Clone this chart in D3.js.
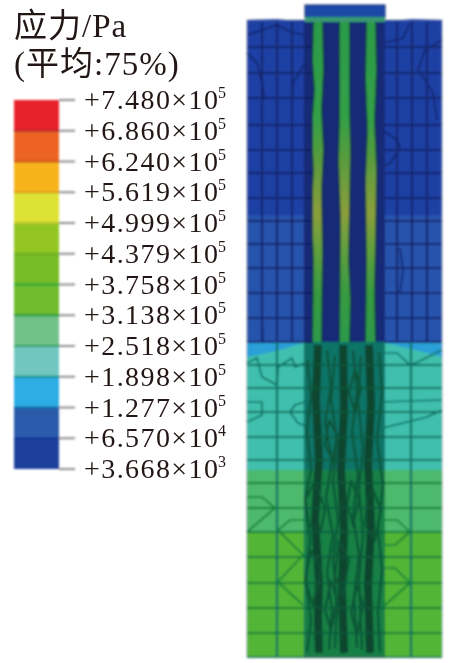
<!DOCTYPE html>
<html><head><meta charset="utf-8">
<script src="https://cdn.jsdelivr.net/npm/d3@7"></script>
<style>html,body{margin:0;padding:0;background:#fff}svg{display:block}</style></head>
<body><svg id="c" width="449" height="663"></svg>
<script>
const titleLines = [["应力","/Pa"],["(平均",":75%)"]];
const tickMantissas = ["7.480","6.860","6.240","5.619","4.999","4.379","3.758","3.138","2.518","1.898","1.277","6.570","3.668"];
const tickExponents = ["5","5","5","5","5","5","5","5","5","5","5","4","3"];
const legendColors = ["#e8202a","#ec6420","#f6b31c","#dde236","#93c623","#77bb28","#70bc2e","#72c08a","#72c6c0","#2fade4","#2a5cab","#1a419b"];
const legendEdges = ["#b8262e","#c9521c","#d99a1a","#b9c22c","#6fae22","#1fa53a","#1b9a3c","#28a565","#0f8f8c","#0a6ea8","#143a94","#15308f"];

// model units: x across the section, y is depth below the ground surface
const soilBands = [[0,195,"#1c3fa4"],[195,322,"#2752ac"],[322,337,"#2a9fd8"],[337,450,"#3fbfae"],[450,512,"#4eb96c"],[512,637,"#52b535"]];
const tealArc = [[0,337],[20,333],[40,328],[58,323],[136,323],[160,328],[180,333],[195,337]];
const surfaceLeft = [[0,0],[30,-1],[58,2]];
const surfaceRight = [[136,2],[165,-1],[195,0]];
const depthLinesUpper = [27,53,78,105,130,153,178,201,224,248,273,298,322];
const depthLinesLower = [345,368,392,417,440,463,488,512,537,563,588,613,637];
const widthLinesUpper = [15,30,45,58,136,150,165,180];
const widthLinesLower = [30,58,136,164];
const pileXs = [[66,76],[92,103],[119,129]];
const pileStops = [[0,"#2b9a48"],[0.3,"#33a046"],[0.42,"#559c3e"],[0.6,"#8a9f3a"],[0.72,"#5f9f3e"],[0.85,"#379a40"],[1,"#2c9a4a"]];
const contours = [
 [[0,15],[16,10],[30,5],[43,12],[58,15]],[[0,33],[10,43],[15,63],[18,80]],[[58,43],[46,63],[45,80]],
 [[136,23],[156,18],[163,3]],[[195,20],[178,30],[171,50],[186,73],[190,100]],[[136,110],[150,120],[153,128],[143,143],[136,147]],
 [[153,228],[156,250],[153,273]],[[15,300],[16,322]],
 [[0,343],[10,338],[15,357],[30,365],[31,347],[45,338],[48,347],[58,343]],
 [[136,333],[150,333],[163,345],[171,342],[195,330]],
 [[0,382],[15,382],[15,395],[0,402]],[[58,382],[48,385],[43,392],[51,403],[61,407]],
 [[133,382],[195,380]],[[136,408],[180,397],[195,390]],
 [[0,477],[15,477],[28,488],[0,512]],[[58,500],[43,500],[31,510],[56,535],[31,562],[56,585]],
 [[136,500],[150,500],[163,512],[148,525],[136,525]],[[136,548],[148,548],[163,563],[136,587]]
];
const pileEdges = [
 [[66,2],[65,40],[67,70],[64,110],[66,150],[64,190],[66,240],[65,322]],
 [[76,2],[77,50],[75,90],[77,130],[75,170],[76,230],[75,322]],
 [[92,2],[92,100],[91,140],[93,200],[92,322]],
 [[103,2],[103,90],[104,130],[102,240],[104,280],[103,322]],
 [[119,2],[118,60],[120,110],[118,160],[119,240],[118,322]],
 [[129,2],[130,50],[128,100],[130,150],[129,220],[128,270],[129,322]]
];
const pileDarkLower = [
 [[71,325],[69,380],[72,440],[68,500],[72,560],[71,600],[72,633]],
 [[96,325],[97,390],[94,450],[97,510],[95,570],[97,633]],
 [[122,325],[124,385],[121,445],[124,505],[121,565],[123,633]]
];
const scribbles = [
 [[60,340],[64,375],[60,410],[64,450],[58,480],[63,520],[59,560],[64,600],[60,632]],
 [[80,330],[84,368],[78,402],[85,440],[79,478],[86,515],[80,552],[85,590],[82,630]],
 [[88,335],[84,380],[90,420],[86,462],[91,500],[86,540],[90,585],[88,628]],
 [[106,330],[110,372],[105,412],[111,455],[106,495],[112,535],[107,578],[110,628]],
 [[114,336],[111,382],[116,428],[112,470],[116,515],[112,560],[115,630]],
 [[132,332],[135,372],[130,420],[136,465],[131,510],[135,550],[131,592],[133,632]],
 [[66,465],[58,480],[62,505],[74,510],[78,488],[70,468],[66,465]],
 [[126,470],[134,490],[128,520],[118,505],[120,480],[126,470]],
 [[92,520],[102,540],[96,575],[88,555],[92,520]],
 [[64,530],[74,550],[66,585],[58,560],[64,530]],
 [[82,400],[90,415],[86,440],[78,425],[82,400]],
 [[108,350],[114,368],[108,392],[102,372],[108,350]],
 [[104,460],[112,480],[106,505],[100,485],[104,460]],
 [[84,560],[90,580],[84,610],[78,590],[84,560]],
 [[110,565],[116,585],[110,615],[104,592],[110,565]]
];

const svg = d3.select("#c");
const defs = svg.append("defs");
const blur = (id,s)=>defs.append("filter").attr("id",id).attr("x","-5%").attr("y","-5%").attr("width","110%").attr("height","110%")
  .append("feGaussianBlur").attr("stdDeviation",s);
blur("b1",0.9); blur("b2",0.35); blur("b3",0.95);

// legend
const yL = d3.scalePoint().domain(d3.range(tickMantissas.length)).range([100,469]);
const leg = svg.append("g").attr("filter","url(#b1)");
legendColors.forEach((c,i)=>{
  leg.append("rect").attr("x",14).attr("width",45).attr("y",yL(i)).attr("height",yL(i+1)-yL(i)).attr("fill",c);
});
legendEdges.forEach((c,i)=>{
  leg.append("line").attr("x1",14).attr("x2",59).attr("y1",yL(i+1)).attr("y2",yL(i+1)).attr("stroke",c).attr("stroke-width",i===11?0:2);
});
leg.selectAll(".t").data(tickMantissas).join("line").attr("x1",59).attr("x2",75)
  .attr("y1",(d,i)=>yL(i)).attr("y2",(d,i)=>yL(i)).attr("stroke","#8d8d8d").attr("stroke-width",2);

const serif = "'Liberation Serif','Noto Sans CJK SC',serif";
const lab = svg.append("g").attr("fill","#231815").attr("font-family",serif).attr("filter","url(#b2)");
tickMantissas.forEach((m,i)=>{
  const y = yL(i)+9;
  lab.append("text").attr("x",84).attr("y",y).attr("font-size",28).attr("textLength",134).attr("lengthAdjust","spacing").text("+"+m+"×10");
  lab.append("text").attr("x",218).attr("y",y-11).attr("font-size",16).text(tickExponents[i]);
});
titleLines.forEach((l,i)=>{
  const y = 37+i*38;
  const t = lab.append("text").attr("x",14).attr("y",y).attr("font-size",33).attr("letter-spacing",1);
  t.append("tspan").text(l[0]);
  t.append("tspan").text(l[1]);
});

// finite-element section
const x = d3.scaleLinear().domain([0,195]).range([247,442]);
const y = d3.scaleLinear().domain([-15,640]).range([5,660]);
const line = d3.line().x(d=>x(d[0])).y(d=>y(d[1]));
const curve = d3.line().x(d=>x(d[0])).y(d=>y(d[1])).curve(d3.curveCatmullRom);
const m = svg.append("g").attr("filter","url(#b3)");
soilBands.forEach(b=>m.append("rect").attr("x",x(0)).attr("width",x(195)-x(0)).attr("y",y(b[0])).attr("height",y(b[1])-y(b[0])).attr("fill",b[2]));
m.append("path").attr("d",curve(tealArc)+"L"+x(195)+","+y(345)+"L"+x(0)+","+y(345)+"Z").attr("fill","#3fbfae");
m.append("path").attr("d",line(surfaceLeft)+"L"+x(58)+","+y(8)+"L"+x(0)+","+y(8)+"Z").attr("fill","#1c3fa4");
m.append("path").attr("d",line(surfaceRight)+"L"+x(195)+","+y(8)+"L"+x(136)+","+y(8)+"Z").attr("fill","#1c3fa4");

const meshU="#15276e", meshT="#0a6f60", meshG="#0f7f3a";
const w=2.2;
depthLinesUpper.forEach(d=>m.append("line").attr("x1",x(0)).attr("x2",x(195)).attr("y1",y(d)).attr("y2",y(d)).attr("stroke",meshU).attr("stroke-width",w));
depthLinesLower.forEach(d=>m.append("line").attr("x1",x(0)).attr("x2",x(195)).attr("y1",y(d)).attr("y2",y(d)).attr("stroke",d>=450?meshG:meshT).attr("stroke-width",w));
widthLinesUpper.forEach(d=>m.append("line").attr("x1",x(d)).attr("x2",x(d)).attr("y1",y(2)).attr("y2",y(322)).attr("stroke",meshU).attr("stroke-width",w));
widthLinesLower.forEach(d=>m.append("line").attr("x1",x(d)).attr("x2",x(d)).attr("y1",y(322)).attr("y2",y(637)).attr("stroke",meshT).attr("stroke-width",w));
contours.forEach(c=>m.append("path").attr("d",line(c)).attr("fill","none").attr("stroke",c[0][1]<330?meshU:(c[0][1]>=450?meshG:meshT)).attr("stroke-width",1.7));

// pile zone
m.append("rect").attr("x",x(58)).attr("width",x(138)-x(58)).attr("y",y(2)).attr("height",y(322)-y(2)).attr("fill","#182a78");
m.append("rect").attr("x",x(58)).attr("width",x(138)-x(58)).attr("y",y(322)).attr("height",y(450)-y(322)).attr("fill","#0f7468");
m.append("rect").attr("x",x(58)).attr("width",x(138)-x(58)).attr("y",y(450)).attr("height",y(637)-y(450)).attr("fill","#188044");
const grad = defs.append("linearGradient").attr("id","pg").attr("gradientUnits","userSpaceOnUse").attr("x1",0).attr("x2",0).attr("y1",y(0)).attr("y2",y(322));
pileStops.forEach(s=>grad.append("stop").attr("offset",s[0]).attr("stop-color",s[1]));
pileXs.forEach(p=>m.append("rect").attr("x",x(p[0])).attr("width",x(p[1])-x(p[0])).attr("y",y(0)).attr("height",y(322)-y(0)).attr("fill","url(#pg)"));
depthLinesUpper.forEach(d=>m.append("line").attr("x1",x(58)).attr("x2",x(66)).attr("y1",y(d)).attr("y2",y(d)).attr("stroke","#101f5e").attr("stroke-width",2));
pileEdges.forEach(c=>m.append("path").attr("d",line(c)).attr("fill","none").attr("stroke","#14364e").attr("stroke-width",1.8));
pileDarkLower.forEach(c=>m.append("path").attr("d",line(c)).attr("fill","none").attr("stroke","#07452f").attr("stroke-width",8));
scribbles.forEach(c=>m.append("path").attr("d",line(c)).attr("fill","none").attr("stroke","#0a5236").attr("stroke-width",2.2));
depthLinesLower.forEach(d=>m.append("line").attr("x1",x(58)).attr("x2",x(138)).attr("y1",y(d)).attr("y2",y(d)).attr("stroke","#0b5a3e").attr("stroke-width",1.5));

// pile cap
m.append("rect").attr("x",x(58)).attr("width",x(138)-x(58)).attr("y",y(-15)).attr("height",13).attr("fill","#1e4aa8").attr("stroke","#15276e").attr("stroke-width",1);
m.append("rect").attr("x",x(58)).attr("width",x(138)-x(58)).attr("y",y(-3)).attr("height",5).attr("fill","#2a9a68");
m.append("rect").attr("x",x(0)).attr("width",x(195)-x(0)).attr("y",y(0)).attr("height",y(637)-y(0)).attr("fill","none").attr("stroke","#7f8a9a").attr("stroke-width",1).attr("opacity",0.6);
</script></body></html>
